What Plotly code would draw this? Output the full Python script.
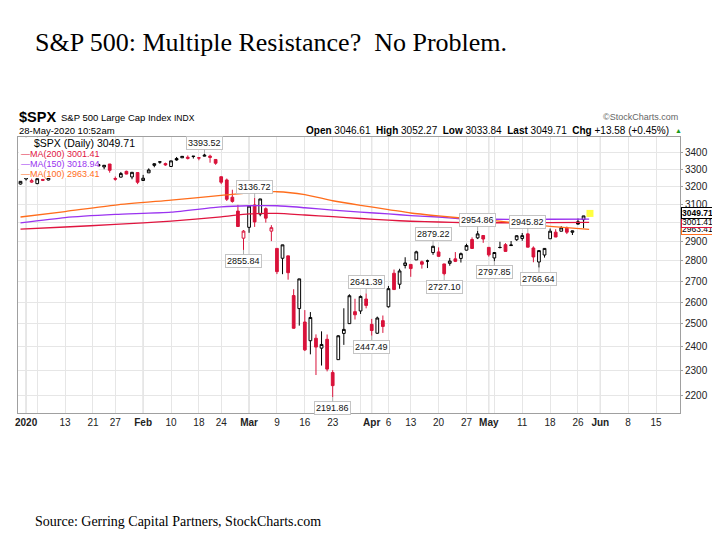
import math
import pandas as pd
import plotly.graph_objects as go

# ---------------- data ----------------
prior_close = 3221.29  # close of 2019-12-30

dates = [
    "2019-12-31",
    "2020-01-02", "2020-01-03", "2020-01-06", "2020-01-07", "2020-01-08", "2020-01-09", "2020-01-10",
    "2020-01-13", "2020-01-14", "2020-01-15", "2020-01-16", "2020-01-17",
    "2020-01-21", "2020-01-22", "2020-01-23", "2020-01-24",
    "2020-01-27", "2020-01-28", "2020-01-29", "2020-01-30", "2020-01-31",
    "2020-02-03", "2020-02-04", "2020-02-05", "2020-02-06", "2020-02-07",
    "2020-02-10", "2020-02-11", "2020-02-12", "2020-02-13", "2020-02-14",
    "2020-02-18", "2020-02-19", "2020-02-20", "2020-02-21",
    "2020-02-24", "2020-02-25", "2020-02-26", "2020-02-27", "2020-02-28",
    "2020-03-02", "2020-03-03", "2020-03-04", "2020-03-05", "2020-03-06",
    "2020-03-09", "2020-03-10", "2020-03-11", "2020-03-12", "2020-03-13",
    "2020-03-16", "2020-03-17", "2020-03-18", "2020-03-19", "2020-03-20",
    "2020-03-23", "2020-03-24", "2020-03-25", "2020-03-26", "2020-03-27",
    "2020-03-30", "2020-03-31", "2020-04-01", "2020-04-02", "2020-04-03",
    "2020-04-06", "2020-04-07", "2020-04-08", "2020-04-09",
    "2020-04-13", "2020-04-14", "2020-04-15", "2020-04-16", "2020-04-17",
    "2020-04-20", "2020-04-21", "2020-04-22", "2020-04-23", "2020-04-24",
    "2020-04-27", "2020-04-28", "2020-04-29", "2020-04-30", "2020-05-01",
    "2020-05-04", "2020-05-05", "2020-05-06", "2020-05-07", "2020-05-08",
    "2020-05-11", "2020-05-12", "2020-05-13", "2020-05-14", "2020-05-15",
    "2020-05-18", "2020-05-19", "2020-05-20", "2020-05-21", "2020-05-22",
    "2020-05-26", "2020-05-27", "2020-05-28",
]

opens = [
    3215.18,
    3244.67, 3226.36, 3217.55, 3241.86, 3238.59, 3266.03, 3281.81,
    3271.13, 3285.35, 3282.27, 3302.97, 3323.66,
    3321.03, 3330.02, 3315.77, 3333.10,
    3247.16, 3255.35, 3289.46, 3256.45, 3282.33,
    3235.66, 3280.61, 3324.91, 3344.92, 3335.54,
    3318.28, 3365.87, 3370.50, 3365.90, 3378.08,
    3369.04, 3380.39, 3380.45, 3360.50,
    3257.61, 3238.94, 3139.90, 3062.54, 2916.90,
    2974.28, 3096.46, 3045.75, 3075.70, 2954.20,
    2863.89, 2813.48, 2825.60, 2630.86, 2569.99,
    2508.59, 2425.66, 2436.50, 2393.48, 2431.94,
    2290.71, 2344.44, 2457.77, 2501.29, 2555.87,
    2558.98, 2614.69, 2498.08, 2458.54, 2514.92,
    2578.28, 2738.65, 2685.00, 2776.99,
    2782.46, 2805.10, 2795.64, 2799.34, 2842.43,
    2845.62, 2784.81, 2787.89, 2810.42, 2812.64,
    2854.65, 2909.96, 2918.46, 2930.91, 2869.09,
    2815.01, 2868.88, 2883.14, 2878.26, 2908.83,
    2915.46, 2939.50, 2865.86, 2794.54, 2829.95,
    2913.86, 2948.59, 2953.63, 2969.95, 2948.05,
    3004.08, 3015.65, 3046.61,
]

highs = [
    3231.72,
    3258.14, 3246.15, 3246.84, 3244.91, 3267.07, 3275.58, 3282.99,
    3288.13, 3294.25, 3298.66, 3317.11, 3329.88,
    3329.79, 3337.77, 3326.88, 3333.18,
    3258.85, 3285.78, 3293.47, 3285.91, 3282.33,
    3268.44, 3306.92, 3337.58, 3347.96, 3341.42,
    3352.26, 3375.63, 3381.47, 3385.09, 3380.69,
    3375.01, 3393.52, 3389.15, 3360.76,
    3259.81, 3246.99, 3182.51, 3097.07, 2959.72,
    3090.96, 3136.72, 3130.97, 3083.04, 2985.93,
    2863.89, 2882.59, 2825.60, 2660.95, 2711.33,
    2562.98, 2553.93, 2453.57, 2466.97, 2453.01,
    2300.73, 2449.71, 2571.42, 2637.01, 2615.91,
    2631.80, 2641.39, 2522.75, 2533.22, 2538.18,
    2676.85, 2756.89, 2760.75, 2818.57,
    2782.46, 2851.85, 2801.88, 2806.51, 2879.22,
    2868.98, 2785.54, 2815.10, 2844.90, 2842.71,
    2887.72, 2921.15, 2954.86, 2930.91, 2869.09,
    2844.24, 2898.23, 2891.11, 2901.92, 2932.16,
    2944.25, 2945.82, 2874.14, 2852.80, 2865.01,
    2968.09, 2964.21, 2980.29, 2978.50, 2956.76,
    3021.72, 3036.25, 3052.27,
]

lows = [
    3212.03,
    3235.53, 3222.34, 3214.64, 3232.43, 3236.67, 3263.67, 3260.86,
    3268.43, 3277.19, 3280.69, 3302.82, 3318.86,
    3316.61, 3320.04, 3301.87, 3281.53,
    3234.50, 3253.22, 3271.89, 3242.80, 3214.68,
    3235.66, 3280.61, 3313.75, 3334.39, 3322.12,
    3317.77, 3352.72, 3369.72, 3360.52, 3366.15,
    3355.61, 3378.83, 3341.02, 3328.45,
    3214.65, 3118.77, 3108.99, 2977.39, 2855.84,
    2945.19, 2976.63, 3034.38, 2999.83, 2901.54,
    2734.43, 2734.00, 2707.22, 2478.86, 2492.37,
    2380.94, 2367.04, 2280.52, 2319.78, 2295.56,
    2191.86, 2344.44, 2407.53, 2500.72, 2520.02,
    2545.28, 2571.15, 2447.49, 2455.79, 2459.96,
    2574.57, 2657.67, 2663.30, 2762.36,
    2721.17, 2805.10, 2761.54, 2764.32, 2830.88,
    2820.43, 2727.10, 2775.95, 2794.26, 2791.76,
    2852.89, 2860.71, 2912.16, 2892.47, 2821.61,
    2797.85, 2863.55, 2847.65, 2876.48, 2902.88,
    2903.44, 2869.59, 2793.15, 2766.64, 2816.78,
    2913.86, 2922.35, 2953.63, 2938.57, 2933.59,
    2988.17, 2969.75, 3033.84,
]

closes = [
    3230.78,
    3257.85, 3234.85, 3246.28, 3237.18, 3253.05, 3274.70, 3265.35,
    3288.13, 3283.15, 3289.29, 3316.81, 3329.62,
    3320.79, 3321.75, 3325.54, 3295.47,
    3243.63, 3276.24, 3273.40, 3283.66, 3225.52,
    3248.92, 3297.59, 3334.69, 3345.78, 3327.71,
    3352.09, 3357.75, 3379.45, 3373.94, 3380.16,
    3370.29, 3386.15, 3373.23, 3337.75,
    3225.89, 3128.21, 3116.39, 2978.76, 2954.22,
    3090.23, 3003.37, 3130.12, 3023.94, 2972.37,
    2746.56, 2882.23, 2741.38, 2480.64, 2711.02,
    2386.13, 2529.19, 2398.10, 2409.39, 2304.92,
    2237.40, 2447.33, 2475.56, 2630.07, 2541.47,
    2626.65, 2584.59, 2470.50, 2526.90, 2488.65,
    2663.68, 2659.41, 2749.98, 2789.82,
    2761.63, 2846.06, 2783.36, 2799.55, 2874.56,
    2823.16, 2736.56, 2799.31, 2797.80, 2836.74,
    2878.48, 2863.39, 2939.51, 2912.43, 2830.71,
    2842.74, 2868.44, 2848.42, 2881.19, 2929.80,
    2930.32, 2870.12, 2820.00, 2852.50, 2863.70,
    2953.91, 2922.94, 2971.61, 2948.51, 2955.45,
    2991.77, 3036.13, 3049.71,
]

# moving averages
ma_dates = ["2019-12-31", "2020-01-13", "2020-01-27", "2020-02-10", "2020-02-24", "2020-03-02",
            "2020-03-09", "2020-03-16", "2020-03-23", "2020-03-30", "2020-04-06", "2020-04-13",
            "2020-04-20", "2020-04-27", "2020-05-04", "2020-05-11", "2020-05-18", "2020-05-28"]
ma200 = [2965, 2976, 2990, 3008, 3031, 3047, 3050, 3041, 3032, 3022, 3013, 3007,
         3003, 2999, 2999, 2999, 3000, 3001.41]
ma150 = [2998, 3027, 3044, 3057, 3086, 3092, 3092, 3081, 3068, 3057, 3047, 3038,
         3030, 3019, 3018, 3017, 3018, 3018.94]
ma100 = [3030, 3060, 3096, 3124, 3150, 3164, 3171, 3155, 3120, 3094, 3071, 3052,
         3036, 3022, 3010, 2995, 2980, 2963.41]

# labelled highs / lows
label_dates = ["2020-02-19", "2020-03-03", "2020-02-28", "2020-03-23", "2020-03-31", "2020-04-01",
               "2020-04-17", "2020-04-21", "2020-04-29", "2020-05-04", "2020-05-12", "2020-05-14"]
label_values = [3393.52, 3136.72, 2855.84, 2191.86, 2641.39, 2447.49,
                2879.22, 2727.10, 2954.86, 2797.85, 2945.82, 2766.64]
label_side = ["above", "above", "below", "below", "above", "below",
              "above", "below", "above", "below", "above", "below"]

tick_dates = ["2020-01-02", "2020-01-06", "2020-01-13", "2020-01-21", "2020-01-27", "2020-02-03",
              "2020-02-10", "2020-02-18", "2020-02-24", "2020-03-02", "2020-03-09", "2020-03-16",
              "2020-03-23", "2020-03-30", "2020-04-01", "2020-04-06", "2020-04-13", "2020-04-20",
              "2020-04-27", "2020-05-01", "2020-05-04", "2020-05-11", "2020-05-18", "2020-05-26",
              "2020-06-01", "2020-06-08", "2020-06-15"]
tick_labels = ["<b>2020</b>", "", "13", "21", "27", "<b>Feb</b>", "10", "18", "24", "<b>Mar</b>", "9", "16",
               "23", "", "<b>Apr</b>", "6", "13", "20", "27", "<b>May</b>", "", "11", "18", "26",
               "<b>Jun</b>", "8", "15"]
month_dates = ["2020-01-02", "2020-02-03", "2020-03-02", "2020-04-01", "2020-05-01", "2020-06-01"]

y_ticks = [2200, 2300, 2400, 2500, 2600, 2700, 2800, 2900, 3000, 3100, 3200, 3300, 3400]

holidays = ["2020-01-01", "2020-01-20", "2020-02-17", "2020-04-10", "2020-05-25"]

# ---------------- trading-day axis ----------------
calendar = [d.strftime("%Y-%m-%d") for d in pd.bdate_range("2019-12-31", "2020-06-19")]
calendar = [d for d in calendar if d not in holidays]
pos = {d: i for i, d in enumerate(calendar)}
x_all = [pos[d] for d in dates]

RED = "#d9123a"
BLACK = "#000000"
MA_COLORS = ["#e0153f", "#9a33f0", "#ff6d1c"]

prev = [prior_close] + closes[:-1]
blk = [i for i in range(len(dates)) if closes[i] >= prev[i]]
red = [i for i in range(len(dates)) if closes[i] < prev[i]]

fig = go.Figure()

# highlight of the latest bar
fig.add_trace(go.Scatter(x=[x_all[-1] + 0.15], y=[closes[-1]], mode="markers",
                         marker=dict(symbol="square", size=7, color="#ffff40"),
                         hoverinfo="skip", showlegend=False))

for idx, col in ((blk, BLACK), (red, RED)):
    fig.add_trace(go.Candlestick(
        x=[x_all[i] for i in idx],
        open=[opens[i] for i in idx], high=[highs[i] for i in idx],
        low=[lows[i] for i in idx], close=[closes[i] for i in idx],
        increasing=dict(line=dict(color=col, width=1), fillcolor="white"),
        decreasing=dict(line=dict(color=col, width=1), fillcolor=col),
        whiskerwidth=0, showlegend=False, hoverinfo="skip"))

ma_x = [pos[d] for d in ma_dates]
for vals, col in zip((ma200, ma150, ma100), MA_COLORS):
    fig.add_trace(go.Scatter(x=ma_x, y=vals, mode="lines",
                             line=dict(color=col, width=1.3, shape="spline", smoothing=0.6),
                             hoverinfo="skip", showlegend=False))

# ---------------- layout helpers ----------------
# target page pixels (the page body adds an 8 px offset, compensated below)
OFF = 8
L, R, T, B = 15, 680, 137, 413
FW, FH = 720 - OFF, 540 - OFF


def px(x):
    return (x - L) / (R - L)


def py(y):
    return (B - y) / (B - T)


annotations = []


def text(x, y, s, size, color="#000", family="Liberation Sans", xanchor="left", yanchor="middle"):
    annotations.append(dict(x=px(x), y=py(y), xref="paper", yref="paper", text=s, showarrow=False,
                            xanchor=xanchor, yanchor=yanchor,
                            font=dict(size=size, color=color, family=family)))


# slide title / footer
text(30, 42, "S&amp;P 500: Multiple Resistance?\u00a0\u00a0No Problem.", 26, "#000", "Liberation Serif")
text(30, 521, "Source: Gerring Capital Partners, StockCharts.com", 14, "#000", "Liberation Serif")

# chart header
text(14, 117, "<b>$SPX</b>", 14.5)
text(56, 118, "S&amp;P 500 Large Cap Index", 9.5)
text(170, 118, "INDX", 8.5)
text(14, 131, "28-May-2020 10:52am", 9.5)
text(680, 117, "\u00a9StockCharts.com", 9, "#666", xanchor="right")
chg = closes[-1] - closes[-2]
pct = chg / closes[-2] * 100
hdr = (f"<b>Open</b> {opens[-1]:.2f}  <b>High</b> {highs[-1]:.2f}  <b>Low</b> {lows[-1]:.2f}  "
       f"<b>Last</b> {closes[-1]:.2f}  <b>Chg</b> {chg:+.2f} ({pct:+.2f}%)")
text(671, 131, hdr.replace("  ", "\u00a0\u00a0"), 10, xanchor="right")
text(673, 131, "\u25b2", 7, "#1a9a1a")

# in-chart legend
text(29, 143, f"$SPX (Daily) {closes[-1]:.2f}", 10.5)
text(16, 153.5, f"\u2014MA(200) {ma200[-1]:.2f}", 9, MA_COLORS[0])
text(16, 163.5, f"\u2014MA(150) {ma150[-1]:.2f}", 9, MA_COLORS[1])
text(16, 173.5, f"\u2014MA(100) {ma100[-1]:.2f}", 9, MA_COLORS[2])

# high / low call-outs
for d, v, s in zip(label_dates, label_values, label_side):
    annotations.append(dict(x=pos[d], y=math.log10(v), xref="x", yref="y", text=f"{v:.2f}",
                            showarrow=True, arrowhead=0, arrowwidth=1, arrowcolor="#b0b0b0",
                            ax=0, ay=-11 if s == "above" else 11, standoff=0,
                            bgcolor="white", bordercolor="#c4c4c4", borderwidth=1, borderpad=1,
                            font=dict(size=9, color="#111", family="Liberation Sans")))

# right-hand price tags
for v, col, bold in ((ma150[-1], MA_COLORS[1], False), (ma100[-1], MA_COLORS[2], False),
                     (ma200[-1], MA_COLORS[0], False), (closes[-1], "#000", True)):
    s = f"{v:.2f}"
    annotations.append(dict(x=px(681), y=math.log10(v), xref="paper", yref="y",
                            text=f"<b>{s}</b>" if bold else s, showarrow=False, xanchor="left",
                            yanchor="middle", bgcolor="white", bordercolor=col, borderwidth=1,
                            borderpad=0, font=dict(size=8.5, color="#000", family="Liberation Sans")))

shapes = [dict(type="line", xref="x", yref="paper", x0=pos[d], x1=pos[d], y0=0, y1=1,
               line=dict(color="#c8c8c8", width=1), layer="below") for d in month_dates]
# white panel behind the in-chart legend (hides the bars underneath, as in the original)
shapes.append(dict(type="rect", xref="paper", yref="paper", x0=px(16), x1=px(96),
                   y0=py(178), y1=py(138), fillcolor="white", line=dict(width=0), layer="above"))

fig.update_layout(
    width=FW, height=FH,
    margin=dict(l=L - OFF, r=FW - (R - OFF), t=T - OFF, b=FH - (B - OFF)),
    paper_bgcolor="white", plot_bgcolor="white",
    showlegend=False,
    annotations=annotations, shapes=shapes,
    xaxis=dict(range=[-0.45, 118.3], tickmode="array", tickvals=[pos[d] for d in tick_dates],
               ticktext=tick_labels, showgrid=True, gridcolor="#e6e6e6", gridwidth=1,
               zeroline=False, showline=True, linecolor="#a0a0a0", mirror=True,
               ticks="", tickfont=dict(size=10, color="#222", family="Liberation Sans"),
               rangeslider=dict(visible=False), fixedrange=True),
    yaxis=dict(type="log", range=[math.log10(2130), math.log10(3499)], side="right",
               tickmode="array", tickvals=y_ticks, ticktext=[str(t) for t in y_ticks],
               showgrid=True, gridcolor="#e6e6e6", zeroline=False, showline=True,
               linecolor="#a0a0a0", mirror=True, ticks="outside", ticklen=2, tickcolor="#a0a0a0",
               tickfont=dict(size=10, color="#222", family="Liberation Sans"), fixedrange=True),
)

fig.write_html("out.html")
